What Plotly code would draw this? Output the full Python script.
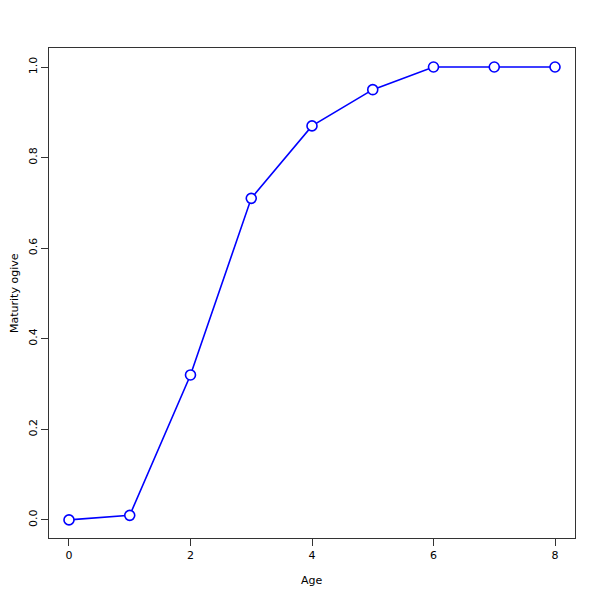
import plotly.graph_objects as go

ages = [0, 1, 2, 3, 4, 5, 6, 7, 8]
maturity = [0.0, 0.01, 0.32, 0.71, 0.87, 0.95, 1.0, 1.0, 1.0]
x_ticks = [0, 2, 4, 6, 8]
y_ticks = [0.0, 0.2, 0.4, 0.6, 0.8, 1.0]
x_title = "Age"
y_title = "Maturity ogive"

fig = go.Figure()
fig.add_trace(go.Scatter(
    x=ages, y=maturity, mode="lines+markers",
    line=dict(color="#0000ff", width=1.6),
    marker=dict(symbol="circle", size=10, color="white",
                line=dict(color="#0000ff", width=1.6)),
    showlegend=False,
))

axis_common = dict(
    showline=True, linecolor="#333333", linewidth=1, mirror=True,
    ticks="outside", ticklen=7, tickcolor="#333333", tickwidth=1,
    showgrid=False, zeroline=False, automargin=False,
    tickfont=dict(family="DejaVu Sans", size=11, color="black"),
)

fig.update_layout(
    width=600, height=600,
    margin=dict(l=41, r=33, t=40, b=70),
    paper_bgcolor="white", plot_bgcolor="white",
    font=dict(family="DejaVu Sans", size=11, color="black"),
    xaxis=dict(range=[-0.329, 8.329], tickvals=x_ticks, **axis_common),
    yaxis=dict(range=[-0.04, 1.042], tickvals=y_ticks, tickformat=".1f",
               tickangle=-90, **axis_common),
    annotations=[
        dict(text=x_title, xref="paper", yref="paper", x=0.5, y=0,
             xanchor="center", yanchor="middle", yshift=-42,
             showarrow=False, font=dict(size=11, color="black")),
        dict(text=y_title, xref="paper", yref="paper", x=0, y=0.5,
             xanchor="center", yanchor="middle", xshift=-35, textangle=-90,
             showarrow=False, font=dict(size=11, color="black")),
    ],
)

fig.write_html("out.html")
